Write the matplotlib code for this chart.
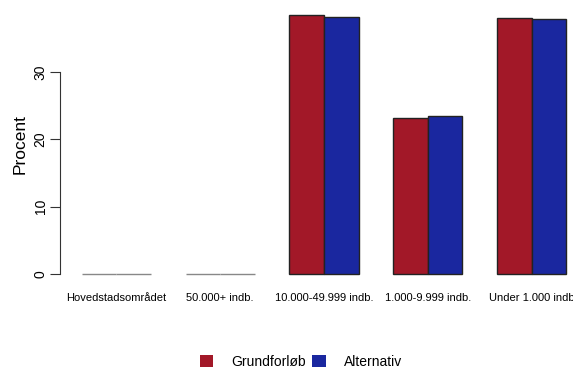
import matplotlib
matplotlib.use("Agg")
import matplotlib.pyplot as plt
import numpy as np
from matplotlib.patches import Patch

categories = ["Hovedstadsområdet", "50.000+ indb.", "10.000-49.999 indb.",
              "1.000-9.999 indb.", "Under 1.000 indb"]
series_names = ["Grundforløb", "Alternativ"]
grundforloeb = [0.0, 0.0, 38.5, 23.1, 38.0]
alternativ = [0.0, 0.0, 38.2, 23.5, 37.9]
yticks = [0, 10, 20, 30]

colors = ["#A21828", "#1A279F"]

plt.rcParams['font.family'] = ['Liberation Sans', 'DejaVu Sans']

fig = plt.figure(figsize=(5.73, 3.70), dpi=100)
ax = fig.add_axes([60 / 573, (370 - 284.4) / 370, 513 / 573, 280 / 370])

# R style barplot, beside=TRUE: width 1, space c(0, 1)
n = len(categories)
left_red = np.arange(n) * 3 + 1
left_blue = left_red + 1
for lefts, vals, col in [(left_red, grundforloeb, colors[0]),
                         (left_blue, alternativ, colors[1])]:
    edges = ["#888888" if v == 0 else "#222222" for v in vals]
    ax.bar(lefts, vals, width=1, align="edge", color=col,
           edgecolor=edges, linewidth=1.0)

ax.set_xlim(0.37, 0.37 + 513 / 34.6)
ax.set_ylim(-1.54, 40.04)

for sp in ["top", "right", "bottom"]:
    ax.spines[sp].set_visible(False)
ax.spines["left"].set_bounds(yticks[0], yticks[-1])
ax.spines["left"].set_color("#333333")
ax.set_xticks([])
ax.set_yticks(yticks)
ax.set_yticklabels([str(t) for t in yticks], rotation=90, va="center", fontsize=10)
ax.tick_params(axis="y", length=7, color="#333333", pad=2)
ax.set_ylabel("Procent", fontsize=12.5, labelpad=4)

centers = left_red + 1
for c, lab in zip(centers, categories):
    ax.text(c, -2.8, lab, ha="center", va="top", fontsize=8)

handles = [Patch(facecolor=colors[0], edgecolor="none"),
           Patch(facecolor=colors[1], edgecolor="none")]
fig.legend(handles, series_names, loc="center", bbox_to_anchor=(301 / 573, 1 - 362 / 370),
           ncol=2, frameon=False, fontsize=10, handlelength=0.95, handleheight=0.95,
           handletextpad=1.3, columnspacing=0.45)

fig.savefig("out.png", dpi=100)
